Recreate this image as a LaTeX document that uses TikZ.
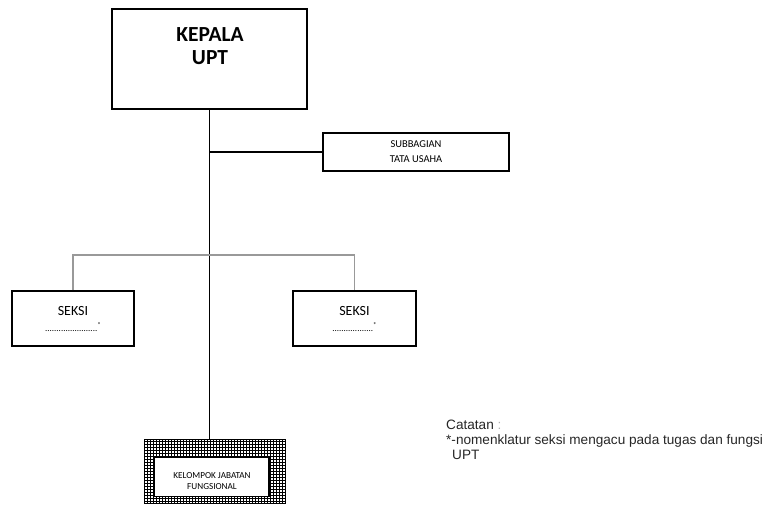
\documentclass[tikz,border=0pt]{standalone}
\usepackage{fontspec}
\setmainfont{Carlito}
\newfontfamily\arialf{Liberation Sans}
\begin{document}
\begin{tikzpicture}[x=1pt,y=-1pt,
  box/.style={draw=black, line width=1.8pt, fill=white, inner sep=0pt, align=center},
  orgline/.style={line width=1.8pt, draw=black},
  greyline/.style={line width=1.3pt, draw=black!40},
  notetext/.style={anchor=base west, inner sep=0pt, text=black!85, font=\arialf\fontsize{13.6}{15}\selectfont}]
\useasboundingbox (0,0) rectangle (765,505);
% head
\node[box, minimum width=195pt, minimum height=100pt] (kepala) at (209.5,59) {};
\node[font=\bfseries\fontsize{21.5}{23}\selectfont, align=center, inner sep=0pt] (kepalatxt) at (210,46.5) {KEPALA\\UPT};
% subbagian
\node[box, minimum width=186pt, minimum height=38pt, font=\fontsize{10.5}{15}\selectfont] (subbag) at (416,152) {SUBBAGIAN\\TATA USAHA};
% seksi
\node[box, minimum width=122pt, minimum height=55pt, font=\fontsize{14}{18}\selectfont] (seksiL) at (73,318.5) {SEKSI\\[-2pt]{\fontsize{9}{9}\selectfont .......................\raisebox{4pt}{\fontsize{7}{7}\selectfont *}}};
\node[box, minimum width=123pt, minimum height=55pt, font=\fontsize{14}{18}\selectfont] (seksiR) at (354.5,318.5) {SEKSI\\[-2pt]{\fontsize{9}{9}\selectfont ..................\raisebox{4pt}{\fontsize{7}{7}\selectfont *}}};
% kelompok jabatan fungsional
\node[minimum width=140pt, minimum height=63pt, inner sep=0pt] (kelompok) at (215,471.5) {};
\begin{scope}
  \clip (kelompok.south west) rectangle (kelompok.north east);
  \fill[white] (kelompok.south west) rectangle (kelompok.north east);
  \draw[line width=1pt, step=3pt] (kelompok.south west) grid (kelompok.north east);
\end{scope}
\draw[line width=1pt] (kelompok.south west) rectangle (kelompok.north east);
\node[draw=black, line width=1.2pt, fill=white, minimum width=115pt, minimum height=39pt, inner sep=0pt] (kelinner) at (211.5,477) {};
\node[font=\fontsize{9.2}{11}\selectfont, align=center, inner sep=0pt] (keltxt) at (212,481.5) {KELOMPOK JABATAN\\FUNGSIONAL};
% connectors
\coordinate (j1) at (kepala.south |- subbag.west);
\coordinate (j2) at (209.5,255);
\draw[orgline] (kepala.south) -- (kepala.south |- kelompok.north);
\draw[orgline] (j1) -- (subbag.west);
\draw[greyline] (seksiL.north) -- (seksiL.north |- j2) -- (seksiR.north |- j2) -- (seksiR.north);
% note
\node[notetext] (note1) at (446,429) {Catatan {\color{black!30}:}};
\node[notetext] (note2) at (446,444) {*-nomenklatur seksi mengacu pada tugas dan fungsi};
\node[notetext] (note3) at (452,459) {UPT};
\end{tikzpicture}
\end{document}
